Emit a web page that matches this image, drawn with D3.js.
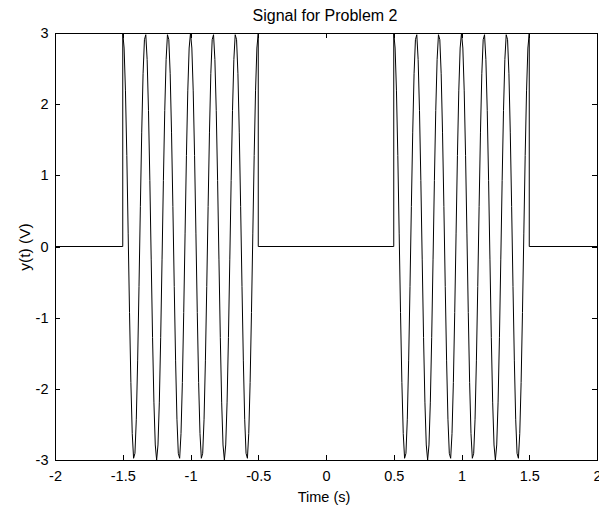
<!DOCTYPE html>
<html>
<head>
<meta charset="utf-8">
<script src="https://cdn.jsdelivr.net/npm/d3@7"></script>
<style>
  html, body { margin: 0; padding: 0; background: #fff; }
  svg { display: block; font-family: "Liberation Sans", Arial, sans-serif; }
</style>
</head>
<body>
<svg id="chart" width="599" height="508"></svg>
<script>
// ---- data ----
const title = "Signal for Problem 2";
const xLabel = "Time (s)";
const yLabel = "y(t) (V)";
const xTicks = [-2, -1.5, -1, -0.5, 0, 0.5, 1, 1.5, 2];
const yTicks = [-3, -2, -1, 0, 1, 2, 3];
const xDomain = [-2, 2];
const yDomain = [-3, 3];

// sample step of the bursts (s)
const sampleStep = 0.01;
// burst 1 starts at t = -1.5 s, burst 2 at t = 0.5 s
const burst1Start = -1.5;
const burst2Start = 0.5;
const burst1Values = [
  3, 2.789, 2.187, 1.277, 0.188, -0.927, -1.912, -2.629, -2.976, -2.906, -2.427, -1.607, -0.562,
  0.562, 1.607, 2.427, 2.906, 2.976, 2.629, 1.912, 0.927, -0.188, -1.277, -2.187, -2.789, -3,
  -2.789, -2.187, -1.277, -0.188, 0.927, 1.912, 2.629, 2.976, 2.906, 2.427, 1.607, 0.562,
  -0.562, -1.607, -2.427, -2.906, -2.976, -2.629, -1.912, -0.927, 0.188, 1.277, 2.187, 2.789,
  3, 2.789, 2.187, 1.277, 0.188, -0.927, -1.912, -2.629, -2.976, -2.906, -2.427, -1.607, -0.562,
  0.562, 1.607, 2.427, 2.906, 2.976, 2.629, 1.912, 0.927, -0.188, -1.277, -2.187, -2.789, -3,
  -2.789, -2.187, -1.277, -0.188, 0.927, 1.912, 2.629, 2.976, 2.906, 2.427, 1.607, 0.562,
  -0.562, -1.607, -2.427, -2.906, -2.976, -2.629, -1.912, -0.927, 0.188, 1.277, 2.187, 2.789, 3
];
const burst2Values = [
  3, 2.789, 2.187, 1.277, 0.188, -0.927, -1.912, -2.629, -2.976, -2.906, -2.427, -1.607, -0.562,
  0.562, 1.607, 2.427, 2.906, 2.976, 2.629, 1.912, 0.927, -0.188, -1.277, -2.187, -2.789, -3,
  -2.789, -2.187, -1.277, -0.188, 0.927, 1.912, 2.629, 2.976, 2.906, 2.427, 1.607, 0.562,
  -0.562, -1.607, -2.427, -2.906, -2.976, -2.629, -1.912, -0.927, 0.188, 1.277, 2.187, 2.789,
  3, 2.789, 2.187, 1.277, 0.188, -0.927, -1.912, -2.629, -2.976, -2.906, -2.427, -1.607, -0.562,
  0.562, 1.607, 2.427, 2.906, 2.976, 2.629, 1.912, 0.927, -0.188, -1.277, -2.187, -2.789, -3,
  -2.789, -2.187, -1.277, -0.188, 0.927, 1.912, 2.629, 2.976, 2.906, 2.427, 1.607, 0.562,
  -0.562, -1.607, -2.427, -2.906, -2.976, -2.629, -1.912, -0.927, 0.188, 1.277, 2.187, 2.789, 3
];
// zero-level segments [t, y]
const zeroSeg1 = [[-2, 0], [-1.5, 0]];
const zeroSeg2 = [[-0.5, 0], [0.5, 0]];
const zeroSeg3 = [[1.5, 0], [2, 0]];

// ---- build series ----
const burst1 = burst1Values.map((v, i) => [burst1Start + i * sampleStep, v]);
const burst2 = burst2Values.map((v, i) => [burst2Start + i * sampleStep, v]);
const signal = [].concat(zeroSeg1, burst1, zeroSeg2, burst2, zeroSeg3);

// ---- layout ----
const svg = d3.select("#chart");
const plotL = 55, plotR = 597, plotT = 33, plotB = 460;
const x = d3.scaleLinear().domain(xDomain).range([plotL, plotR]);
const y = d3.scaleLinear().domain(yDomain).range([plotB, plotT]);
const tickLen = 5;
const tickFont = 14.5;

// signal
svg.append("path")
  .datum(signal)
  .attr("fill", "none")
  .attr("stroke", "#000")
  .attr("stroke-width", 1)
  .attr("d", d3.line().x(d => x(d[0])).y(d => y(d[1])));

// axes (MATLAB box style, inward ticks on all sides)
function styleAxis(g) {
  g.select(".domain").attr("stroke", "#000").attr("stroke-width", 1);
  g.selectAll(".tick line").attr("stroke", "#000");
  g.selectAll("text").attr("fill", "#000").style("font-size", tickFont + "px")
   .style("font-family", '"Liberation Sans", Arial, sans-serif');
  g.attr("shape-rendering", "crispEdges");
}
const fmt = d => String(d);

svg.append("g").attr("transform", `translate(0,${plotB})`)
  .call(d3.axisBottom(x).tickValues(xTicks).tickFormat(fmt).tickSizeInner(-tickLen).tickSizeOuter(0).tickPadding(10.5))
  .call(styleAxis);
svg.append("g").attr("transform", `translate(0,${plotT})`)
  .call(d3.axisTop(x).tickValues(xTicks).tickFormat("").tickSizeInner(-tickLen).tickSizeOuter(0))
  .call(styleAxis);
svg.append("g").attr("transform", `translate(${plotL},0)`)
  .call(d3.axisLeft(y).tickValues(yTicks).tickFormat(fmt).tickSizeInner(-tickLen).tickSizeOuter(0).tickPadding(6.5))
  .call(styleAxis);
svg.append("g").attr("transform", `translate(${plotR},0)`)
  .call(d3.axisRight(y).tickValues(yTicks).tickFormat("").tickSizeInner(-tickLen).tickSizeOuter(0))
  .call(styleAxis);

// title & labels
svg.append("text").attr("x", 325).attr("y", 20.5)
  .attr("text-anchor", "middle").style("font-size", "16px").text(title);
svg.append("text").attr("x", 324).attr("y", 502)
  .attr("text-anchor", "middle").style("font-size", "14.5px").text(xLabel);
svg.append("text").attr("transform", `translate(30,247) rotate(-90)`)
  .attr("text-anchor", "middle").style("font-size", "15.5px").text(yLabel);
</script>
</body>
</html>
